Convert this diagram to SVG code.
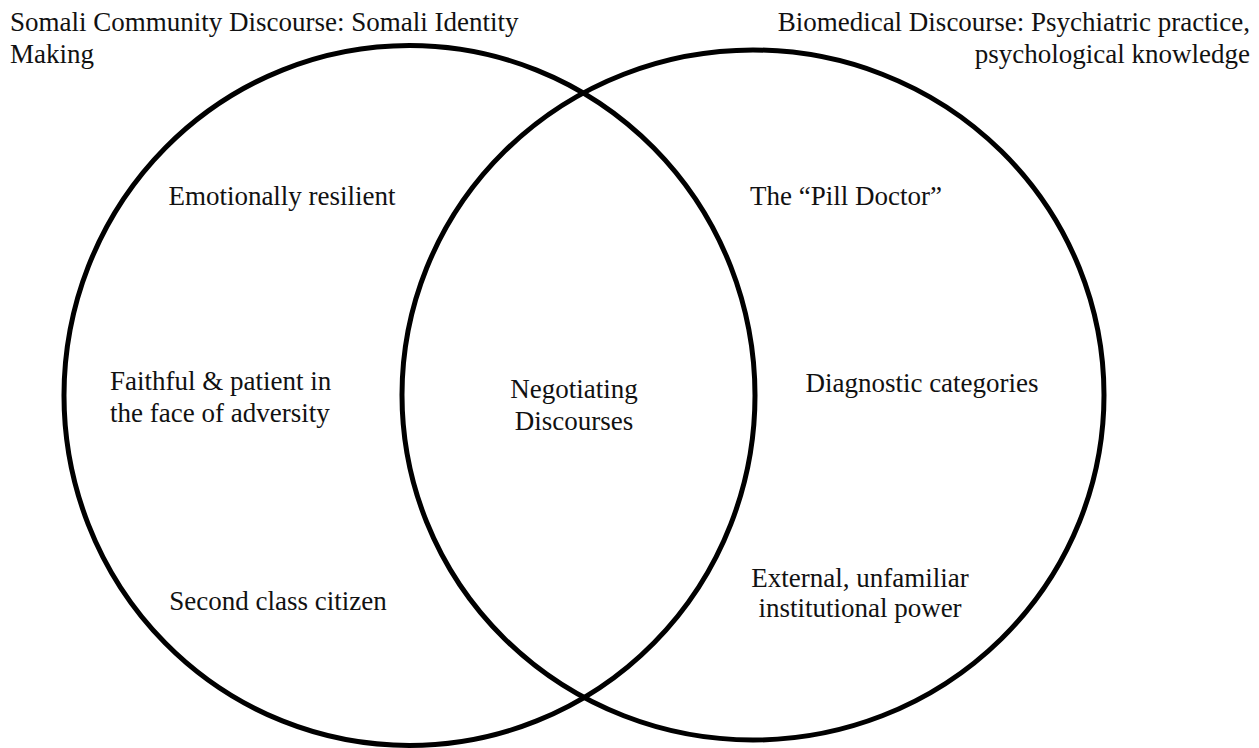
<svg xmlns="http://www.w3.org/2000/svg" width="1259" height="748" viewBox="0 0 1259 748">
  <style>
    .ring { fill: none; stroke: #000; stroke-width: 5; }
    text { font-family: "Liberation Serif", "DejaVu Serif", serif; font-size: 27px; fill: #111; }
    .mid { text-anchor: middle; }
    .end { text-anchor: end; }
  </style>
  <rect width="1259" height="748" fill="#fff"/>

  <!-- the two overlapping discourse circles -->
  <g id="circles">
    <ellipse id="somali-circle" class="ring" cx="409.5" cy="395.5" rx="345.5" ry="350"/>
    <ellipse id="biomedical-circle" class="ring" cx="753" cy="395" rx="351" ry="345"/>
  </g>

  <!-- headings -->
  <g id="somali-heading">
    <text x="10" y="31">Somali Community Discourse: Somali Identity</text>
    <text x="10" y="63">Making</text>
  </g>
  <g id="biomedical-heading">
    <text class="end" x="1250" y="31">Biomedical Discourse: Psychiatric practice,</text>
    <text class="end" x="1250" y="63">psychological knowledge</text>
  </g>

  <!-- left-only region -->
  <g id="emotionally-resilient">
    <text class="mid" x="282" y="205">Emotionally resilient</text>
  </g>
  <g id="faithful-patient">
    <text x="110" y="390">Faithful &amp; patient in</text>
    <text x="110" y="422">the face of adversity</text>
  </g>
  <g id="second-class">
    <text class="mid" x="278" y="610">Second class citizen</text>
  </g>

  <!-- overlap -->
  <g id="negotiating">
    <text class="mid" x="574" y="398">Negotiating</text>
    <text class="mid" x="574" y="430">Discourses</text>
  </g>

  <!-- right-only region -->
  <g id="pill-doctor">
    <text x="750" y="205">The “Pill Doctor”</text>
  </g>
  <g id="diagnostic">
    <text class="mid" x="922" y="392">Diagnostic categories</text>
  </g>
  <g id="institutional-power">
    <text class="mid" x="860" y="587">External, unfamiliar</text>
    <text class="mid" x="860" y="617">institutional power</text>
  </g>

  <g id="connectors"/>
</svg>
